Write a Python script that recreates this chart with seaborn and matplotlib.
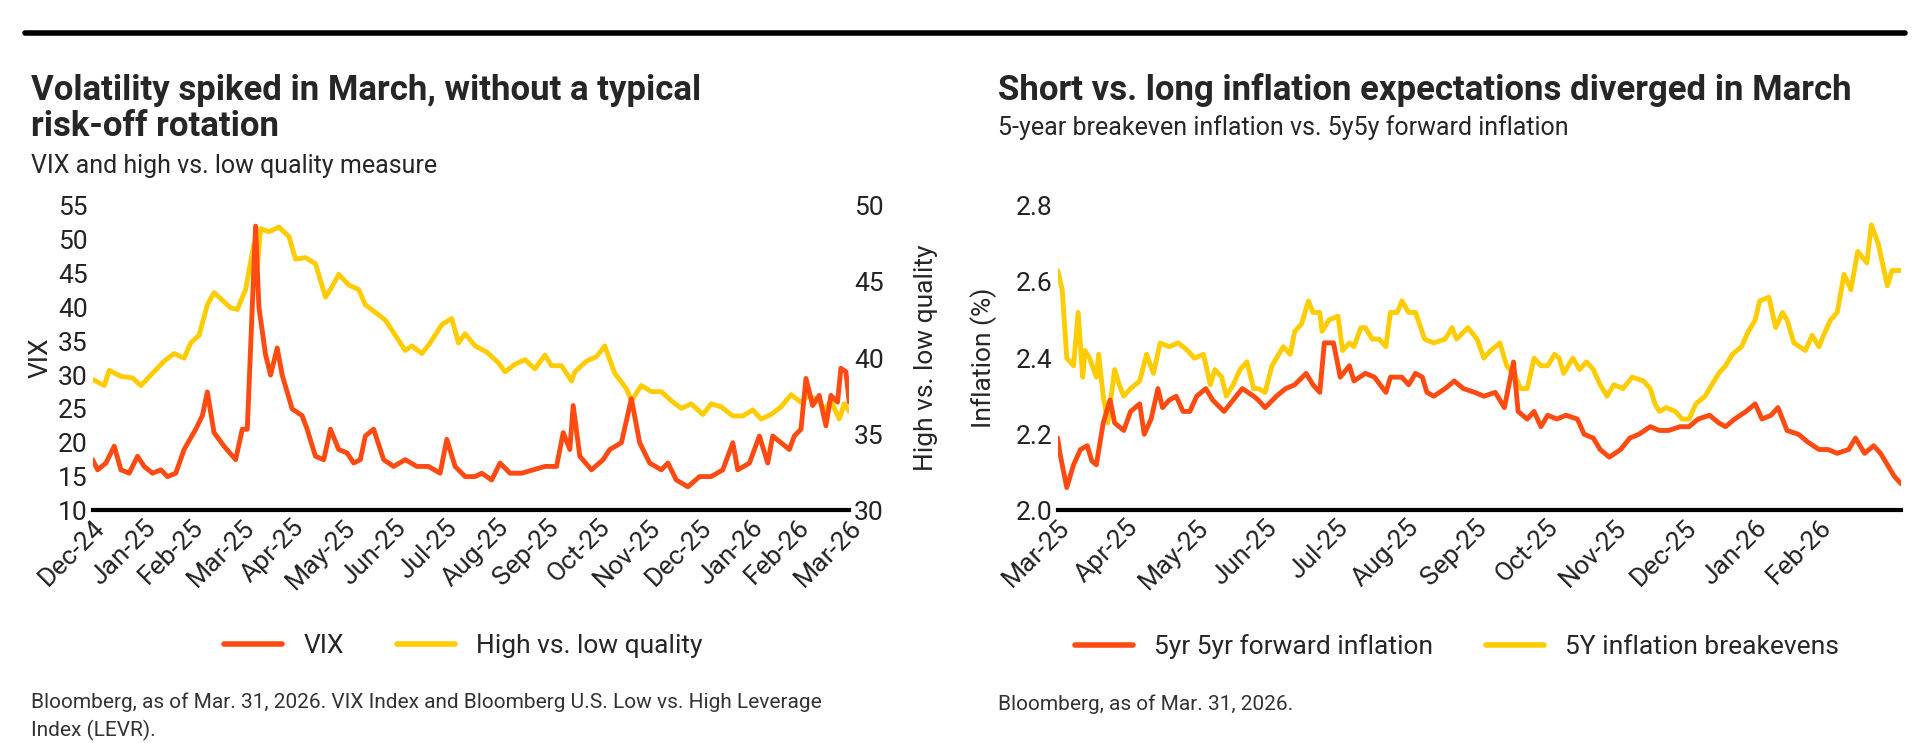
import matplotlib
matplotlib.use("Agg")
import matplotlib.pyplot as plt
import seaborn as sns
import pandas as pd
from matplotlib.lines import Line2D

sns.set_theme(style="white")
plt.rcParams['font.family'] = ['Roboto', 'DejaVu Sans']

RED = "#FF4A12"
YEL = "#FFCC00"

vix_dates = ["2024-12-31","2025-01-03","2025-01-08","2025-01-13","2025-01-17","2025-01-22","2025-01-27","2025-01-31","2025-02-05","2025-02-10","2025-02-14","2025-02-19","2025-02-24","2025-03-03","2025-03-07","2025-03-10","2025-03-14","2025-03-20","2025-03-27","2025-03-31","2025-04-03","2025-04-08","2025-04-10","2025-04-14","2025-04-17","2025-04-21","2025-04-24","2025-04-30","2025-05-06","2025-05-09","2025-05-14","2025-05-19","2025-05-23","2025-05-28","2025-06-02","2025-06-06","2025-06-10","2025-06-13","2025-06-18","2025-06-24","2025-06-30","2025-07-07","2025-07-14","2025-07-21","2025-07-28","2025-08-01","2025-08-06","2025-08-12","2025-08-18","2025-08-22","2025-08-28","2025-09-02","2025-09-08","2025-09-15","2025-09-22","2025-09-29","2025-10-06","2025-10-10","2025-10-14","2025-10-16","2025-10-20","2025-10-27","2025-11-03","2025-11-07","2025-11-14","2025-11-20","2025-11-25","2025-12-01","2025-12-08","2025-12-12","2025-12-17","2025-12-24","2025-12-31","2026-01-07","2026-01-14","2026-01-20","2026-01-23","2026-01-30","2026-02-05","2026-02-10","2026-02-13","2026-02-18","2026-02-23","2026-02-26","2026-03-02","2026-03-05","2026-03-09","2026-03-13","2026-03-17","2026-03-20","2026-03-24","2026-03-26","2026-03-29","2026-03-31"]
vix_vals = [17.5,16,17,19.5,16,15.5,18,16.5,15.5,16,15,15.5,19,22,24,27.5,21.5,19.5,17.5,22,22,52,40,33,30,34,30,25,24,22,18,17.5,22,19,18.5,17,17.5,21,22,17.5,16.5,17.5,16.5,16.5,15.5,20.5,16.5,15,15,15.5,14.5,17,15.5,15.5,16,16.5,16.5,21.5,19,25.5,18,16,17.5,19,20,26.5,20,17,16,17,14.5,13.5,15,15,16,20,16,17,21,17,21,20,19,21,22,29.5,25.5,27,22.5,27,26,31,30.5,26]

hq_dates = ["2024-12-31","2025-01-07","2025-01-10","2025-01-17","2025-01-24","2025-01-29","2025-02-05","2025-02-12","2025-02-18","2025-02-24","2025-02-28","2025-03-05","2025-03-10","2025-03-14","2025-03-19","2025-03-24","2025-03-28","2025-04-02","2025-04-07","2025-04-09","2025-04-11","2025-04-16","2025-04-22","2025-04-28","2025-05-02","2025-05-08","2025-05-14","2025-05-20","2025-05-23","2025-05-28","2025-06-03","2025-06-09","2025-06-13","2025-06-19","2025-06-25","2025-07-01","2025-07-07","2025-07-11","2025-07-17","2025-07-22","2025-07-29","2025-08-04","2025-08-08","2025-08-12","2025-08-18","2025-08-25","2025-09-01","2025-09-05","2025-09-11","2025-09-17","2025-09-23","2025-09-29","2025-10-03","2025-10-09","2025-10-15","2025-10-17","2025-10-24","2025-10-30","2025-11-04","2025-11-10","2025-11-17","2025-11-20","2025-11-26","2025-12-02","2025-12-08","2025-12-14","2025-12-20","2025-12-26","2026-01-02","2026-01-07","2026-01-13","2026-01-20","2026-01-26","2026-02-01","2026-02-06","2026-02-12","2026-02-18","2026-02-24","2026-03-02","2026-03-06","2026-03-12","2026-03-16","2026-03-20","2026-03-25","2026-03-28","2026-03-31"]
hq_vals = [38.6,38.2,39.2,38.8,38.7,38.2,39,39.8,40.3,40,41,41.5,43.5,44.3,43.8,43.3,43.2,44.5,47.5,46,48.5,48.3,48.6,48,46.5,46.6,46.2,44,44.5,45.5,44.8,44.5,43.5,43,42.5,41.5,40.5,40.8,40.3,41,42.2,42.6,41,41.6,40.8,40.4,39.7,39.1,39.6,39.9,39.3,40.2,39.5,39.5,38.5,39.1,39.8,40.1,40.8,39,38,37.2,38.2,37.8,37.8,37.2,36.7,37,36.3,37,36.8,36.2,36.2,36.6,36,36.3,36.8,37.6,37.1,37.5,37.3,36.6,37.2,36,37,36.5]

infl_start = "2025-03-31"
fwd_days = [0,1,4,7,10,13,15,17,20,23,25,29,32,36,38,41,44,46,49,52,55,58,61,65,68,73,77,81,86,88,91,96,100,104,109,112,115,117,121,124,128,130,135,139,144,146,151,154,157,160,162,165,170,174,178,183,187,192,196,200,202,206,209,212,215,219,223,228,231,235,238,242,247,251,255,260,264,268,273,277,281,286,290,293,297,302,306,309,313,316,320,325,329,334,338,342,347,350,354,358,361,364,367,370]
fwd_vals = [2.19,2.15,2.06,2.12,2.16,2.17,2.13,2.12,2.23,2.29,2.23,2.21,2.26,2.28,2.2,2.24,2.32,2.27,2.29,2.3,2.26,2.26,2.3,2.32,2.29,2.26,2.29,2.32,2.3,2.29,2.27,2.3,2.32,2.33,2.36,2.33,2.31,2.44,2.44,2.35,2.38,2.34,2.36,2.35,2.31,2.35,2.35,2.33,2.36,2.35,2.31,2.3,2.32,2.34,2.32,2.31,2.3,2.31,2.27,2.39,2.26,2.24,2.26,2.22,2.25,2.24,2.25,2.24,2.2,2.19,2.16,2.14,2.16,2.19,2.2,2.22,2.21,2.21,2.22,2.22,2.24,2.25,2.23,2.22,2.24,2.26,2.28,2.24,2.25,2.27,2.21,2.2,2.18,2.16,2.16,2.15,2.16,2.19,2.15,2.17,2.15,2.12,2.09,2.07]
be_days = [0,2,4,7,9,11,12,14,17,18,20,22,25,27,29,32,36,39,42,45,49,53,57,60,64,67,69,72,74,77,80,83,86,88,91,94,99,102,104,107,110,112,115,116,119,123,125,128,130,133,135,138,141,144,146,149,151,154,157,161,165,170,173,175,180,184,187,190,194,197,201,203,206,209,212,215,218,220,222,226,229,232,235,238,241,244,248,252,257,260,262,264,267,271,274,277,280,284,287,290,293,296,300,303,306,308,312,315,318,320,323,328,331,334,336,339,342,345,348,351,355,357,360,364,366,370]
be_vals = [2.63,2.58,2.4,2.38,2.52,2.35,2.42,2.4,2.35,2.41,2.3,2.23,2.37,2.33,2.3,2.32,2.34,2.41,2.36,2.44,2.43,2.44,2.42,2.4,2.41,2.33,2.37,2.35,2.3,2.33,2.37,2.39,2.32,2.32,2.31,2.38,2.43,2.41,2.47,2.49,2.55,2.52,2.52,2.47,2.5,2.51,2.42,2.44,2.43,2.48,2.48,2.45,2.45,2.43,2.52,2.52,2.55,2.52,2.52,2.45,2.44,2.45,2.48,2.45,2.48,2.45,2.4,2.42,2.44,2.38,2.35,2.32,2.32,2.4,2.38,2.38,2.41,2.4,2.36,2.4,2.37,2.39,2.37,2.33,2.3,2.33,2.32,2.35,2.34,2.32,2.28,2.26,2.27,2.26,2.24,2.24,2.28,2.3,2.33,2.36,2.38,2.41,2.43,2.47,2.5,2.55,2.56,2.48,2.52,2.5,2.44,2.42,2.46,2.43,2.46,2.5,2.52,2.62,2.58,2.68,2.65,2.75,2.7,2.59,2.63,2.63]

vix_df = pd.DataFrame({"date": pd.to_datetime(vix_dates), "v": vix_vals})
hq_df = pd.DataFrame({"date": pd.to_datetime(hq_dates), "v": hq_vals})
t0 = pd.Timestamp(infl_start)
fwd_df = pd.DataFrame({"date": t0 + pd.to_timedelta(fwd_days, unit="D"), "v": fwd_vals})
be_df = pd.DataFrame({"date": t0 + pd.to_timedelta(be_days, unit="D"), "v": be_vals})

fig = plt.figure(figsize=(19.3, 7.43), dpi=100)
fig.add_artist(Line2D([0.013, 0.987], [0.955, 0.955], color="black", lw=4, transform=fig.transFigure))

FS = 19
def style(ax):
    for s in ["top", "right", "left"]:
        ax.spines[s].set_visible(False)
    ax.spines["bottom"].set_linewidth(3)
    ax.spines["bottom"].set_color("black")
    ax.tick_params(axis="both", length=0, labelsize=FS, colors="#222222")
    ax.grid(False)

ax1 = fig.add_axes([0.048, 0.313, 0.392, 0.41])
sns.lineplot(data=vix_df, x="date", y="v", ax=ax1, color=RED, lw=3.5, zorder=3)
ax2 = ax1.twinx()
sns.lineplot(data=hq_df, x="date", y="v", ax=ax2, color=YEL, lw=3.5, zorder=2)
ax1.set_zorder(ax2.get_zorder() + 1); ax1.patch.set_visible(False)
ax1.set_ylim(10, 55); ax1.set_yticks(range(10, 56, 5))
ax2.set_ylim(30, 50); ax2.set_yticks(range(30, 51, 5))
ax1.set_xlim(pd.Timestamp("2024-12-31"), pd.Timestamp("2026-03-31"))
ticks1 = pd.date_range("2024-12-31", "2026-03-31", freq="ME")
ax1.set_xticks(ticks1)
ax1.set_xticklabels([d.strftime("%b-%y") for d in ticks1], rotation=45, ha="right", rotation_mode="anchor")
style(ax1); style(ax2)
ax2.spines["bottom"].set_visible(False)
ax1.set_xlabel(""); ax1.set_ylabel("VIX", fontsize=FS)
ax2.set_ylabel("High vs. low quality", fontsize=FS)
ax2.yaxis.set_label_coords(1.085, 0.5)

ax3 = fig.add_axes([0.548, 0.313, 0.437, 0.41])
sns.lineplot(data=be_df, x="date", y="v", ax=ax3, color=YEL, lw=3.5)
sns.lineplot(data=fwd_df, x="date", y="v", ax=ax3, color=RED, lw=3.5)
ax3.set_ylim(2.0, 2.8); ax3.set_yticks([2.0, 2.2, 2.4, 2.6, 2.8])
ax3.set_yticklabels(["2.0", "2.2", "2.4", "2.6", "2.8"])
ax3.set_xlim(fwd_df["date"].min(), fwd_df["date"].max())
ticks3 = pd.date_range("2025-03-31", "2026-02-28", freq="ME")
ax3.set_xticks(ticks3)
ax3.set_xticklabels([d.strftime("%b-%y") for d in ticks3], rotation=45, ha="right", rotation_mode="anchor")
style(ax3)
ax3.set_xlabel(""); ax3.set_ylabel("Inflation (%)", fontsize=FS, labelpad=14)

def leg(x, items):
    h = [Line2D([0], [0], color=c, lw=4) for c, _ in items]
    fig.legend(h, [l for _, l in items], loc="center", bbox_to_anchor=(x, 0.13), ncol=2,
               frameon=False, fontsize=FS, handlelength=2.2, columnspacing=2)
leg(0.24, [(RED, "VIX"), (YEL, "High vs. low quality")])
leg(0.755, [(RED, "5yr 5yr forward inflation"), (YEL, "5Y inflation breakevens")])

fig.text(0.016, 0.854, "Volatility spiked in March, without a typical\nrisk-off rotation",
         fontsize=25, fontweight="bold", va="center", linespacing=1.15)
fig.text(0.016, 0.777, "VIX and high vs. low quality measure", fontsize=18, va="center")
fig.text(0.517, 0.879, "Short vs. long inflation expectations diverged in March",
         fontsize=25, fontweight="bold", va="center")
fig.text(0.517, 0.829, "5-year breakeven inflation vs. 5y5y forward inflation", fontsize=18, va="center")

fig.text(0.016, 0.035, "Bloomberg, as of Mar. 31, 2026. VIX Index and Bloomberg U.S. Low vs. High Leverage\nIndex (LEVR).",
         fontsize=15, color="#333333", va="center", linespacing=1.5)
fig.text(0.517, 0.052, "Bloomberg, as of Mar. 31, 2026.", fontsize=15, color="#333333", va="center")

fig.savefig("out.png", dpi=100)
